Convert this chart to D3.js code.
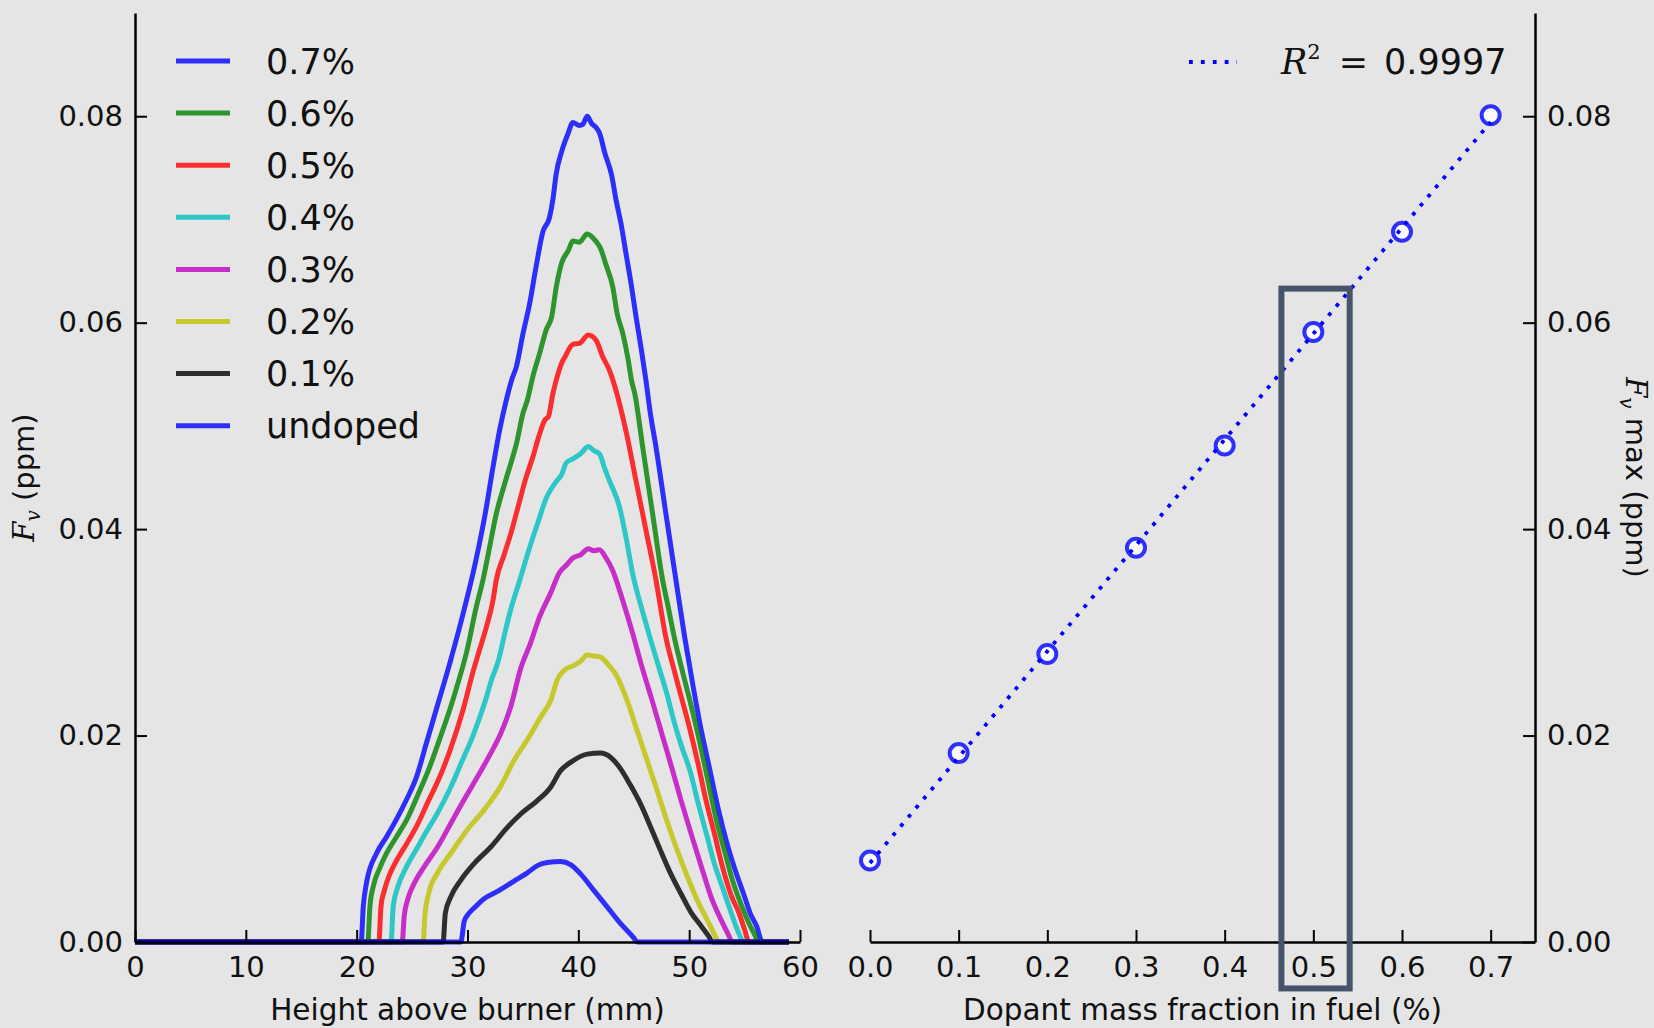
<!DOCTYPE html>
<html>
<head>
<meta charset="utf-8">
<script src="https://cdn.jsdelivr.net/npm/d3@7"></script>
<style>
  html, body { margin: 0; padding: 0; background: #e5e5e5; }
  svg { display: block; font-family: "DejaVu Sans", sans-serif; }
</style>
</head>
<body>
<svg id="chart" width="1654" height="1028"></svg>
<script>
// ---- data ----
// soot volume fraction profiles: [height above burner (mm), Fv (ppm)]
const fv07 = [[0,0],[20.4,0],[20.6,0.0035],[20.9,0.0058],[21.8,0.0086],[22.7,0.0102],[23.6,0.0119],[24.5,0.0138],[25.4,0.0160],[26.3,0.0193],[27.2,0.0226],[28.4,0.0270],[29.6,0.0318],[30.7,0.0367],[31.6,0.0415],[32.3,0.0460],[32.9,0.0496],[33.5,0.0525],[34.0,0.0545],[34.4,0.0557],[35.0,0.0589],[35.6,0.0618],[36.2,0.0655],[36.8,0.0688],[37.4,0.0702],[37.7,0.0719],[38.0,0.0744],[38.5,0.0766],[39.1,0.0784],[39.5,0.0794],[40.1,0.0791],[40.4,0.0792],[40.8,0.0800],[41.2,0.0793],[41.6,0.0789],[41.9,0.0784],[42.4,0.0764],[43.0,0.0743],[43.4,0.0719],[43.9,0.0693],[44.3,0.0667],[44.8,0.0635],[45.2,0.0606],[45.7,0.0573],[46.1,0.0544],[46.5,0.0512],[47.0,0.0480],[47.9,0.0415],[48.8,0.0351],[49.6,0.0295],[50.3,0.0251],[51.0,0.0210],[51.8,0.0170],[52.6,0.0130],[53.4,0.0096],[54.2,0.0068],[54.9,0.0047],[55.5,0.0028],[56.1,0.0015],[56.6,0],[59,0]];
const fv06 = [[0,0],[21.0,0],[21.2,0.0035],[21.5,0.0054],[22.1,0.0072],[22.7,0.0086],[23.6,0.0102],[24.5,0.0118],[25.5,0.0142],[26.6,0.0170],[27.5,0.0197],[28.4,0.0225],[29.2,0.0253],[29.9,0.0280],[30.8,0.0325],[31.4,0.0351],[32.0,0.0383],[32.6,0.0415],[33.3,0.0442],[34.0,0.0467],[34.4,0.0482],[35.0,0.0512],[35.4,0.0525],[35.9,0.0548],[36.5,0.0570],[37.1,0.0593],[37.6,0.0606],[38.0,0.0634],[38.5,0.0658],[39.1,0.0670],[39.5,0.0679],[40.1,0.0678],[40.8,0.0686],[41.5,0.0680],[42.0,0.0672],[42.5,0.0656],[43.1,0.0635],[43.5,0.0609],[44.0,0.0590],[44.5,0.0564],[44.8,0.0544],[45.1,0.0531],[45.8,0.0480],[46.7,0.0415],[47.6,0.0351],[48.1,0.0325],[48.7,0.0293],[49.4,0.0262],[50.2,0.0228],[50.9,0.0196],[51.7,0.0156],[52.4,0.0121],[53.2,0.0088],[53.9,0.0060],[54.7,0.0036],[55.4,0.0018],[56.0,0.0005],[56.2,0],[59,0]];
const fv05 = [[0,0],[22.0,0],[22.2,0.0035],[22.5,0.0050],[23.0,0.0066],[23.6,0.0079],[24.5,0.0095],[25.4,0.0112],[26.4,0.0135],[27.5,0.0160],[28.4,0.0185],[29.6,0.0225],[30.5,0.0262],[31.0,0.0280],[31.7,0.0305],[32.3,0.0331],[32.6,0.0351],[33.3,0.0375],[34.0,0.0399],[34.6,0.0423],[35.2,0.0447],[35.9,0.0470],[36.5,0.0492],[37.0,0.0506],[37.3,0.0509],[37.7,0.0531],[38.0,0.0544],[38.5,0.0561],[38.8,0.0567],[39.5,0.0579],[40.1,0.0580],[40.9,0.0588],[41.6,0.0583],[42.2,0.0567],[42.8,0.0554],[43.3,0.0538],[44.3,0.0495],[45.2,0.0447],[46.1,0.0399],[47.0,0.0351],[47.9,0.0295],[48.6,0.0265],[49.3,0.0237],[50.0,0.0209],[50.8,0.0173],[51.5,0.0138],[52.3,0.0104],[53.0,0.0073],[53.8,0.0045],[54.5,0.0028],[55.0,0.0012],[55.4,0],[59,0]];
const fv04 = [[0,0],[23.1,0],[23.3,0.0035],[23.7,0.0053],[24.5,0.0073],[25.4,0.0090],[26.3,0.0107],[27.3,0.0125],[28.4,0.0148],[29.5,0.0175],[30.5,0.0200],[31.5,0.0230],[32.2,0.0255],[32.8,0.0273],[33.3,0.0296],[33.8,0.0318],[34.7,0.0350],[35.6,0.0382],[36.4,0.0408],[37.1,0.0430],[38.0,0.0446],[38.5,0.0453],[38.9,0.0464],[39.5,0.0468],[40.2,0.0473],[40.9,0.0480],[41.4,0.0476],[41.9,0.0473],[42.4,0.0458],[42.8,0.0447],[43.7,0.0422],[44.3,0.0392],[44.9,0.0357],[45.8,0.0320],[46.6,0.0290],[47.3,0.0265],[48.0,0.0240],[48.6,0.0215],[49.3,0.0190],[50.1,0.0165],[50.8,0.0135],[51.6,0.0103],[52.3,0.0075],[53.1,0.0050],[53.9,0.0025],[54.5,0.0008],[54.9,0],[59,0]];
const fv03 = [[0,0],[24.1,0],[24.3,0.0026],[24.6,0.0041],[25.2,0.0057],[26.1,0.0073],[27.3,0.0092],[28.5,0.0115],[29.7,0.0138],[30.9,0.0160],[32.1,0.0183],[33.0,0.0202],[33.9,0.0228],[34.8,0.0265],[35.7,0.0290],[36.5,0.0315],[37.5,0.0338],[38.3,0.0358],[39.0,0.0366],[39.5,0.0372],[40.2,0.0375],[40.9,0.0381],[41.4,0.0379],[41.9,0.0380],[42.5,0.0372],[43.1,0.0360],[44.0,0.0331],[44.9,0.0299],[45.7,0.0268],[46.6,0.0236],[47.5,0.0203],[48.4,0.0170],[49.3,0.0136],[50.2,0.0104],[51.1,0.0073],[52.0,0.0043],[52.9,0.0021],[53.5,0.0008],[53.9,0],[59,0]];
const fv02 = [[0,0],[26.0,0],[26.15,0.0025],[26.5,0.0047],[27.3,0.0067],[28.5,0.0086],[30.0,0.0109],[31.5,0.0128],[33.0,0.0151],[34.2,0.0176],[35.4,0.0196],[36.6,0.0218],[37.5,0.0234],[38.1,0.0254],[38.7,0.0263],[39.6,0.0268],[40.2,0.0272],[40.8,0.0278],[41.4,0.0277],[42.0,0.0276],[42.6,0.0270],[43.5,0.0257],[44.4,0.0234],[45.3,0.0205],[46.2,0.0176],[47.1,0.0147],[48.0,0.0117],[48.95,0.0088],[49.85,0.0063],[50.75,0.0040],[51.65,0.0021],[52.3,0.0007],[52.7,0],[59,0]];
const fv01 = [[0,0],[27.8,0],[28.0,0.0028],[28.5,0.0044],[29.4,0.0060],[30.6,0.0076],[32.1,0.0092],[33.6,0.0111],[34.8,0.0124],[36.3,0.0137],[37.5,0.0150],[38.4,0.0166],[39.3,0.0174],[40.8,0.0182],[42.0,0.0183],[42.9,0.0179],[43.8,0.0168],[44.7,0.0152],[45.6,0.0134],[46.5,0.0112],[47.4,0.0089],[48.3,0.0067],[49.25,0.0047],[50.15,0.0029],[51.05,0.0016],[51.8,0.0005],[52.1,0],[59,0]];
const fvUndoped = [[0,0],[29.4,0],[29.7,0.0020],[30.0,0.0026],[30.6,0.0033],[31.5,0.0042],[32.7,0.0049],[34.2,0.0059],[35.4,0.0067],[36.3,0.0074],[37.2,0.0077],[38.4,0.0078],[39.3,0.0075],[40.2,0.0066],[41.4,0.0050],[42.6,0.0034],[43.8,0.0018],[45.0,0.0004],[45.3,0],[59,0]];

const profiles = [fv07, fv06, fv05, fv04, fv03, fv02, fv01, fvUndoped];
const profileLabels = ["0.7%", "0.6%", "0.5%", "0.4%", "0.3%", "0.2%", "0.1%", "undoped"];
const profileColors = ["#0000ff", "#008000", "#ff0000", "#00bfbf", "#bf00bf", "#bfbf00", "#000000", "#0000ff"];

// peak Fv against dopant mass fraction
const dopantFraction = [0.0, 0.1, 0.2, 0.3, 0.4, 0.5, 0.6, 0.7];
const fvMax = [0.0079, 0.0183, 0.0279, 0.0382, 0.0481, 0.0591, 0.0688, 0.0801];
const rSquaredText = "0.9997";
const highlightX = [0.464, 0.541];
const highlightY = [-0.0045, 0.0633];

const heightTicks = [0, 10, 20, 30, 40, 50, 60];
const fractionTicks = [0, 0.1, 0.2, 0.3, 0.4, 0.5, 0.6, 0.7];
const fvTicks = [0, 0.02, 0.04, 0.06, 0.08];

// ---- layout ----
const svg = d3.select("#chart");
const plotTop = 13, plotBottom = 942;
const fontSize = 29;

const xL = d3.scaleLinear().domain([0, 60]).range([135, 800]);
const xR = d3.scaleLinear().domain([0, 0.75]).range([870, 1535]);
const y = d3.scaleLinear().domain([0, 0.09]).range([plotBottom, plotTop]);

const leftPanel = svg.append("g");
const rightPanel = svg.append("g");

// profiles
const line = d3.line()
  .x(d => xL(d[0]))
  .y(d => y(d[1]))
  .curve(d3.curveMonotoneX);

leftPanel.selectAll(".profile")
  .data(profiles)
  .enter()
  .append("path")
  .attr("class", "profile")
  .attr("d", line)
  .attr("fill", "none")
  .attr("stroke", (d, i) => profileColors[i])
  .attr("stroke-opacity", 0.8)
  .attr("stroke-width", 5)
  .attr("stroke-linejoin", "round");

// axes, matplotlib classic look: ticks inside
function styleAxis(g) {
  g.select(".domain").attr("stroke", "#000").attr("stroke-width", 2.5);
  g.selectAll(".tick line").attr("stroke", "#000").attr("stroke-width", 2);
  g.selectAll(".tick text").attr("fill", "#111").style("font-size", fontSize + "px")
    .style("font-family", "'DejaVu Sans', sans-serif");
}

leftPanel.append("g")
  .attr("transform", `translate(0,${plotBottom})`)
  .call(d3.axisBottom(xL).tickValues(heightTicks).tickFormat(d3.format("d")).tickSizeInner(-12).tickSizeOuter(0).tickPadding(14))
  .call(styleAxis);

leftPanel.append("g")
  .attr("transform", `translate(${xL(0)},0)`)
  .call(d3.axisLeft(y).tickValues(fvTicks).tickFormat(d3.format(".2f")).tickSizeInner(-12).tickSizeOuter(0).tickPadding(12))
  .call(styleAxis);

// legend for profiles
const legend = leftPanel.append("g");
profileLabels.forEach((label, i) => {
  const ly = 61 + i * 52.1;
  legend.append("line")
    .attr("x1", 176).attr("x2", 230)
    .attr("y1", ly).attr("y2", ly)
    .attr("stroke", profileColors[i])
    .attr("stroke-opacity", 0.8)
    .attr("stroke-width", 5);
  legend.append("text")
    .attr("x", 266).attr("y", ly)
    .attr("dy", "0.36em")
    .style("font-size", "35px")
    .attr("fill", "#111")
    .text(label);
});

// axis labels, left panel
leftPanel.append("text")
  .attr("x", xL(30)).attr("y", 1020)
  .attr("text-anchor", "middle")
  .style("font-size", "29.5px")
  .attr("fill", "#111")
  .text("Height above burner (mm)");

const yLab = leftPanel.append("text")
  .attr("transform", `translate(34,${(plotTop + plotBottom) / 2}) rotate(-90)`)
  .attr("text-anchor", "middle")
  .style("font-size", fontSize + "px")
  .attr("fill", "#111");
yLab.append("tspan").style("font-family", "'DejaVu Serif', serif").style("font-style", "italic").text("F");
yLab.append("tspan").style("font-family", "'DejaVu Serif', serif").style("font-style", "italic")
  .style("font-size", "20px").attr("dy", 6).text("v");
yLab.append("tspan").attr("dy", -6).text(" (ppm)");

// ---- right panel ----
rightPanel.append("g")
  .attr("transform", `translate(0,${plotBottom})`)
  .call(d3.axisBottom(xR).tickValues(fractionTicks).tickFormat(d3.format(".1f")).tickSizeInner(-12).tickSizeOuter(0).tickPadding(14))
  .call(styleAxis);

rightPanel.append("g")
  .attr("transform", `translate(${xR(0.75)},0)`)
  .call(d3.axisRight(y).tickValues(fvTicks).tickFormat(d3.format(".2f")).tickSizeInner(-12).tickSizeOuter(0).tickPadding(12))
  .call(styleAxis);

// least-squares fit of peak Fv
const mx = d3.mean(dopantFraction), my = d3.mean(fvMax);
const slope = d3.sum(dopantFraction, (x, i) => (x - mx) * (fvMax[i] - my)) /
  d3.sum(dopantFraction, x => (x - mx) * (x - mx));
const intercept = my - slope * mx;
const fitEnds = d3.extent(dopantFraction);

const points = dopantFraction.map((x, i) => ({ x, v: fvMax[i] }));

rightPanel.selectAll(".pt")
  .data(points)
  .enter()
  .append("circle")
  .attr("class", "pt")
  .attr("cx", d => xR(d.x))
  .attr("cy", d => y(d.v))
  .attr("r", 9)
  .attr("fill", "#fafafa")
  .attr("stroke", "#0000ff")
  .attr("stroke-opacity", 0.8)
  .attr("stroke-width", 4);

rightPanel.append("line")
  .attr("x1", xR(fitEnds[0])).attr("y1", y(intercept + slope * fitEnds[0]))
  .attr("x2", xR(fitEnds[1])).attr("y2", y(intercept + slope * fitEnds[1]))
  .attr("stroke", "#0000ff")
  .attr("stroke-width", 3.8)
  .attr("stroke-dasharray", "3.8 8.1");

// highlight around the 0.5 % point
rightPanel.append("rect")
  .attr("x", xR(highlightX[0]))
  .attr("y", y(highlightY[1]))
  .attr("width", xR(highlightX[1]) - xR(highlightX[0]))
  .attr("height", y(highlightY[0]) - y(highlightY[1]))
  .attr("fill", "none")
  .attr("stroke", "#46546a")
  .attr("stroke-width", 6);

// fit legend
rightPanel.append("line")
  .attr("x1", 1189).attr("x2", 1237)
  .attr("y1", 62).attr("y2", 62)
  .attr("stroke", "#0000ff")
  .attr("stroke-width", 3.8)
  .attr("stroke-dasharray", "3.8 8.1");

const r2 = rightPanel.append("text")
  .attr("x", 1281).attr("y", 74)
  .style("font-size", "35px")
  .attr("fill", "#111");
r2.append("tspan").style("font-family", "'DejaVu Serif', serif").style("font-style", "italic").text("R");
r2.append("tspan").style("font-family", "'DejaVu Serif', serif").style("font-size", "21px").attr("dy", -15).text("2");
r2.append("tspan").style("font-family", "'DejaVu Serif', serif").attr("dy", 15).attr("dx", 18).text("=");
r2.append("tspan").attr("dx", 16).text(rSquaredText);

// axis labels, right panel
rightPanel.append("text")
  .attr("x", xR(0.375)).attr("y", 1020)
  .attr("text-anchor", "middle")
  .style("font-size", "29.5px")
  .attr("fill", "#111")
  .text("Dopant mass fraction in fuel (%)");

const yLabR = rightPanel.append("text")
  .attr("transform", `translate(1626,${(plotTop + plotBottom) / 2}) rotate(90)`)
  .attr("text-anchor", "middle")
  .style("font-size", fontSize + "px")
  .attr("fill", "#111");
yLabR.append("tspan").style("font-family", "'DejaVu Serif', serif").style("font-style", "italic").text("F");
yLabR.append("tspan").style("font-family", "'DejaVu Serif', serif").style("font-style", "italic")
  .style("font-size", "20px").attr("dy", 6).text("v");
yLabR.append("tspan").attr("dy", -6).text(" max (ppm)");
</script>
</body>
</html>
